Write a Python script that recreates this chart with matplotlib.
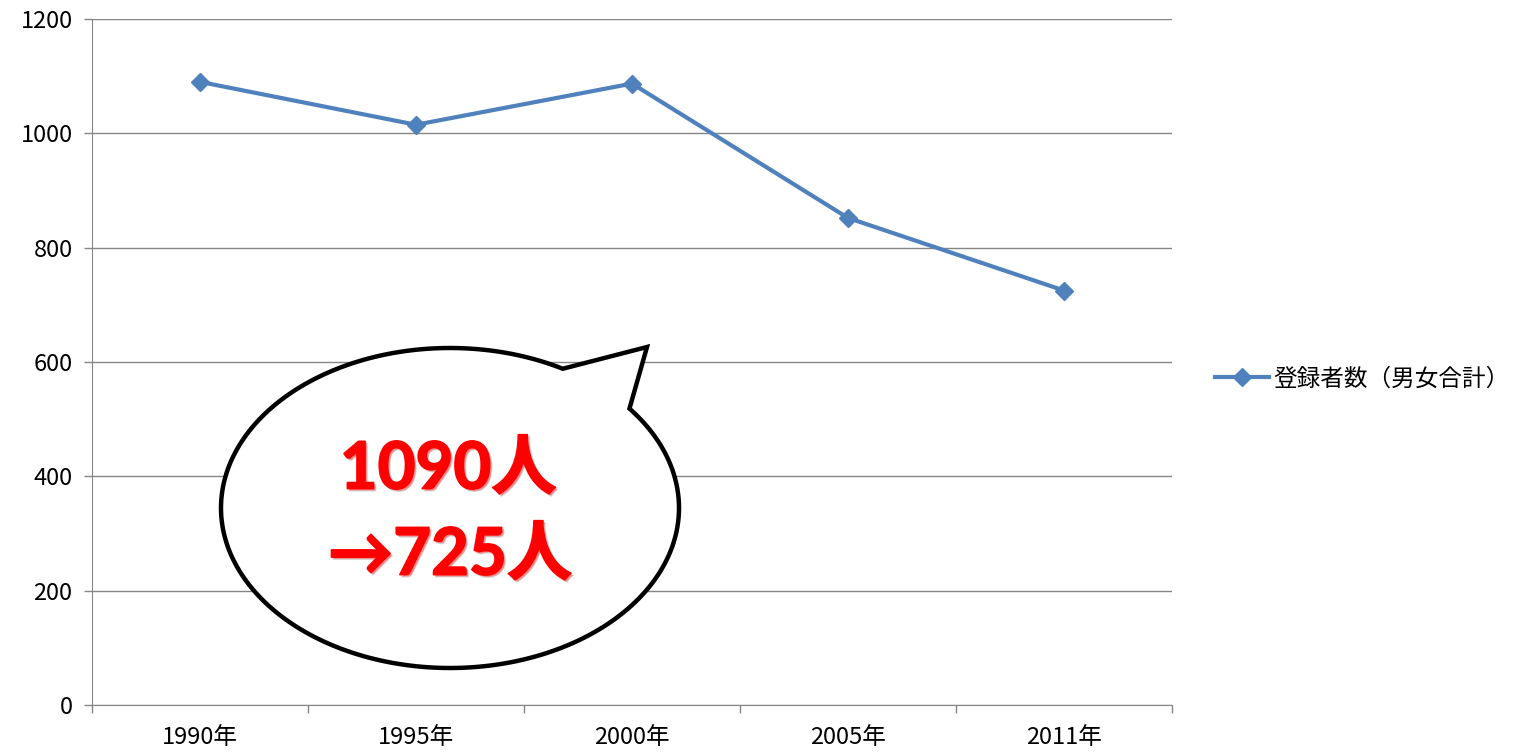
import numpy as np
import matplotlib.pyplot as plt
from matplotlib.patches import Polygon
import matplotlib.patheffects as pe

plt.rcParams['font.family'] = ['Noto Sans CJK JP', 'DejaVu Sans']

years = ["1990年", "1995年", "2000年", "2005年", "2011年"]
members = [1090, 1015, 1087, 852, 725]
series_name = "登録者数（男女合計）"
bubble_lines = ["1090人", "→725人"]

fig = plt.figure(figsize=(15.2, 7.54), dpi=100)
ax = fig.add_axes([92 / 1520, 49 / 754, 1080 / 1520, 686 / 754])

x = np.arange(len(years))
ax.plot(x, members, color="#4F81BD", lw=3, marker="D", ms=9,
        markerfacecolor="#4F81BD", markeredgecolor="#4F81BD", label=series_name)

ax.set_xlim(-0.5, len(years) - 0.5)
ax.set_ylim(0, 1200)
ax.set_yticks(range(0, 1201, 200))
ax.yaxis.grid(True, color="#868686", lw=1)
ax.set_axisbelow(True)

ax.set_xticks(x)
ax.set_xticklabels(years)
ax.set_xticks(np.arange(-0.5, len(years)), minor=True)
ax.tick_params(axis="x", which="major", length=0, pad=15, labelsize=17)
ax.tick_params(axis="x", which="minor", length=6, color="#868686", width=1)
ax.tick_params(axis="y", length=6, color="#868686", width=1, pad=8, labelsize=17)

for s in ["top", "right"]:
    ax.spines[s].set_visible(False)
for s in ["left", "bottom"]:
    ax.spines[s].set_color("#868686")

ax.legend(loc="center left", bbox_to_anchor=(1.02, 0.475), frameon=False,
          fontsize=17, handlelength=2.3, handletextpad=0.2)

# speech bubble (figure pixel coordinates, y up)
cx, cy, a, b = 450, 246, 229, 160
t1, t2 = np.radians(60.5), np.radians(38.4) + 2 * np.pi
t = np.linspace(t1, t2, 300)
pts = [(647, 407)] + list(zip(cx + a * np.cos(t), cy + b * np.sin(t))) + [(647, 407)]
pts = [(px / 1520, py / 754) for px, py in pts]
bubble = Polygon(pts, closed=True, transform=fig.transFigure, facecolor="white",
                 edgecolor="black", lw=3.2, joinstyle="miter", zorder=5)
fig.patches.append(bubble)

effects = [pe.withStroke(linewidth=1.2, foreground="#bbbbbb", offset=(1.5, -1.5), alpha=0.5),
           pe.Stroke(linewidth=1.2, foreground="#FF0000"), pe.Normal()]
fam = ["Lato", "Noto Sans CJK JP"]
fig.text(448 / 1520, 1 - 470 / 754, bubble_lines[0], ha="center", va="center",
         fontsize=47, fontweight="bold", color="#FF0000", zorder=6, path_effects=effects,
         family=fam)
fig.text(450 / 1520, 1 - 556 / 754, bubble_lines[1], ha="center", va="center",
         fontsize=47, fontweight="bold", color="#FF0000", zorder=6, path_effects=effects,
         family=fam)

fig.savefig("out.png", dpi=100)
